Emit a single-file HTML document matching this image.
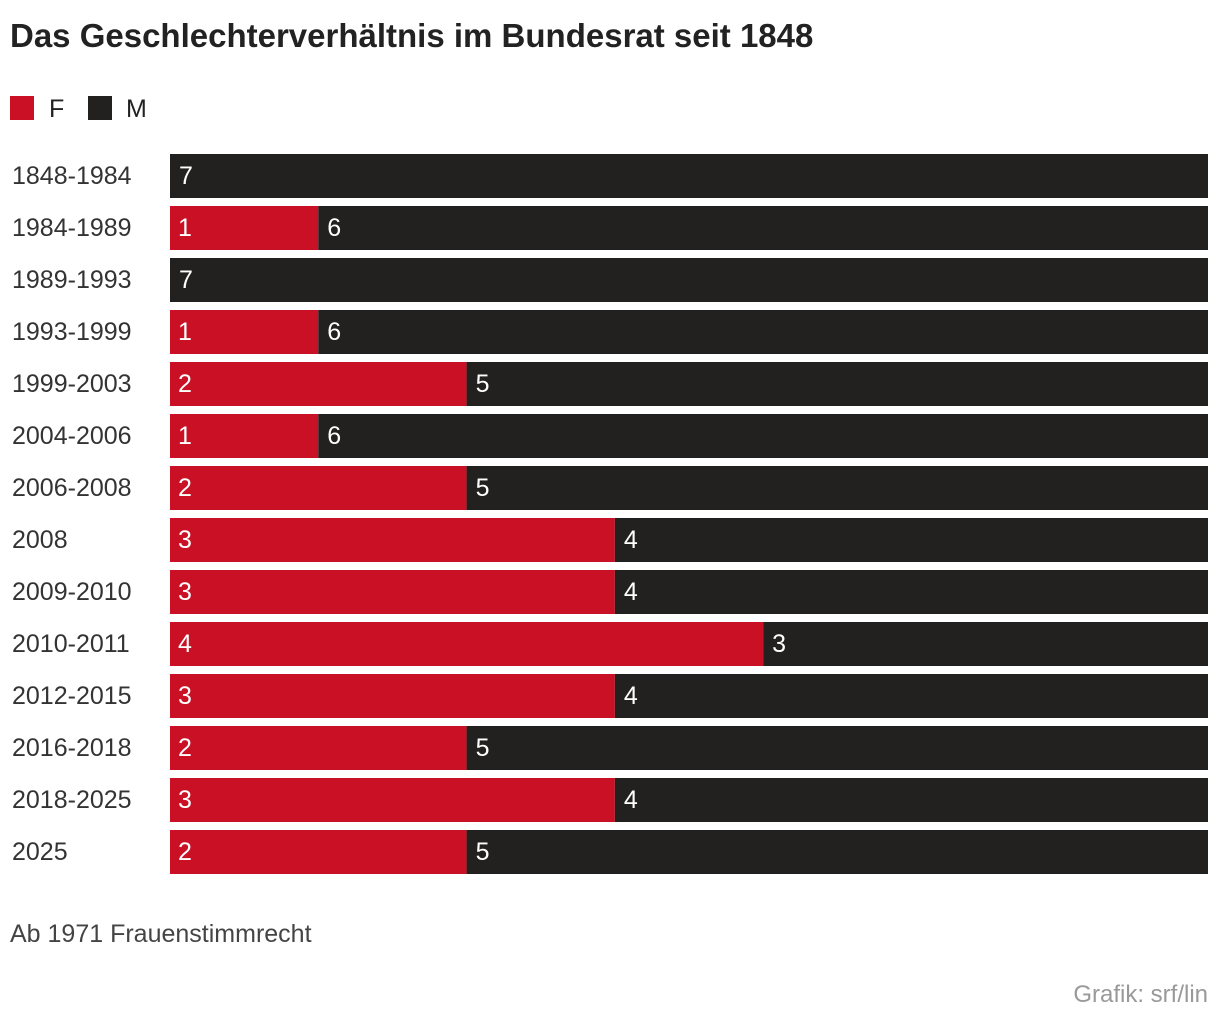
<!DOCTYPE html>
<html><head><meta charset="utf-8"><style>
body{margin:0;background:#fff;width:1220px;height:1026px;overflow:hidden;font-family:"Liberation Sans",sans-serif;}
</style></head><body>
<svg width="1220" height="1026" id="svg" style="font-family:'Liberation Sans',sans-serif">
<text x="10" y="47" font-size="33" font-weight="bold" fill="#222">Das Geschlechterverhältnis im Bundesrat seit 1848</text>
<rect x="10" y="96" width="24" height="24" fill="#c91024"/>
<text x="49" y="117" font-size="25" fill="#222">F</text>
<rect x="88" y="96" width="24" height="24" fill="#22211f"/>
<text x="126" y="117" font-size="25" fill="#222">M</text>
<g id="bars"></g>
<text x="10" y="942" font-size="25" fill="#444">Ab 1971 Frauenstimmrecht</text>
<text x="1208" y="1002" font-size="24" fill="#999" text-anchor="end">Grafik: srf/lin</text>
</svg>
<script>
const categories=["1848-1984","1984-1989","1989-1993","1993-1999","1999-2003","2004-2006","2006-2008","2008","2009-2010","2010-2011","2012-2015","2016-2018","2018-2025","2025"];
const women=[0,1,0,1,2,1,2,3,3,4,3,2,3,2];
const men=[7,6,7,6,5,6,5,4,4,3,4,5,4,5];
const X0=170,X1=1208,TOP=154,PITCH=52,BH=44;
const g=document.getElementById('bars');const NS="http://www.w3.org/2000/svg";
const total=Math.max(...categories.map((c,i)=>women[i]+men[i]));
const x=v=>X0+(X1-X0)*v/total;
const y=i=>TOP+PITCH*i;
function mk(t,a){const e=document.createElementNS(NS,t);for(const k in a)e.setAttribute(k,a[k]);g.appendChild(e);return e;}
categories.forEach((c,i)=>{
 const l=mk('text',{x:12,y:y(i)+30,'font-size':25,fill:'#333'});l.textContent=c;
 
 
 if(women[i]>0){
  const r=mk('rect',{x:x(0),y:y(i),width:x(women[i])-x(0),height:BH,fill:'#c91024'});
  
  
  const t=mk('text',{x:x(0)+8,y:y(i)+30,'font-size':25,fill:'#fff'});t.textContent=women[i];
  
  
 }
 const r2=mk('rect',{x:x(women[i]),y:y(i),width:x(women[i]+men[i])-x(women[i]),height:BH,fill:'#22211f'});
 
 
 const t2=mk('text',{x:x(women[i])+9,y:y(i)+30,'font-size':25,fill:'#fff'});t2.textContent=men[i];
 
 
});
</script>
</body></html>
